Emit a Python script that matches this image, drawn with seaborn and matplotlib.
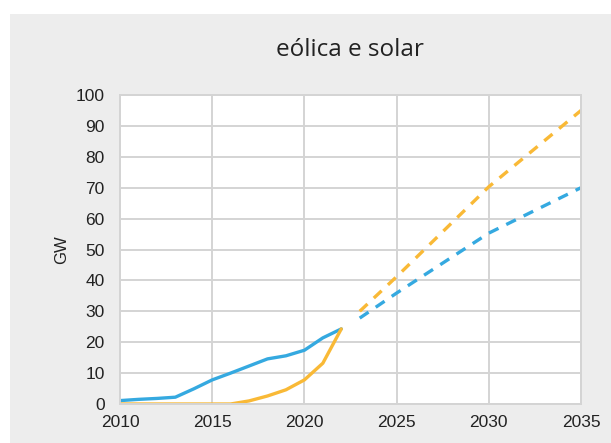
import pandas as pd
import matplotlib.pyplot as plt
import matplotlib.patches as mpatches
import seaborn as sns

# historic data (GW)
years_hist = [2010, 2011, 2012, 2013, 2014, 2015, 2016, 2017, 2018, 2019, 2020, 2021, 2022]
wind_hist = [1.1, 1.5, 1.8, 2.2, 4.9, 7.8, 10.0, 12.3, 14.6, 15.6, 17.4, 21.4, 24.3]
solar_hist = [0.0, 0.0, 0.0, 0.0, 0.0, 0.0, 0.0, 1.0, 2.6, 4.6, 7.8, 13.2, 24.3]

# projections (GW)
years_proj = [2023, 2025, 2030, 2035]
wind_proj = [27.8, 35.9, 55.3, 70.0]
solar_proj = [30.0, 41.2, 70.3, 95.0]

x_ticks = [2010, 2015, 2020, 2025, 2030, 2035]
y_ticks = list(range(0, 101, 10))

blue = "#35A9E0"
orange = "#F9B936"

hist = pd.DataFrame({"ano": years_hist, "eolica": wind_hist, "solar": solar_hist})
proj = pd.DataFrame({"ano": years_proj, "eolica": wind_proj, "solar": solar_proj})

sns.set_theme(style="white")
plt.rcParams["font.family"] = ["Liberation Sans", "DejaVu Sans"]

fig = plt.figure(figsize=(6.11, 4.43), dpi=100, facecolor="white")
# gray chart area behind everything
fig.patches.append(mpatches.Rectangle((10 / 611, 0), 1, 1 - 14 / 443,
                                      transform=fig.transFigure,
                                      facecolor="#EDEDED", edgecolor="none", zorder=-10))
ax = fig.add_axes([120 / 611, 1 - 404 / 443, 461 / 611, 309 / 443])
ax.set_facecolor("white")

sns.lineplot(data=hist, x="ano", y="eolica", color=blue, linewidth=2.4, ax=ax)
sns.lineplot(data=hist, x="ano", y="solar", color=orange, linewidth=2.4, ax=ax)
sns.lineplot(data=proj, x="ano", y="eolica", color=blue, linewidth=2.4,
             linestyle=(0, (3.2, 2.6)), ax=ax)
sns.lineplot(data=proj, x="ano", y="solar", color=orange, linewidth=2.4,
             linestyle=(0, (3.2, 2.6)), ax=ax)

ax.set_xlim(2010, 2035)
ax.set_ylim(0, 100)
ax.set_xticks(x_ticks)
ax.set_yticks(y_ticks)
ax.grid(True, color="#D4D4D4", linewidth=1.4)
ax.set_axisbelow(True)
for s in ax.spines.values():
    s.set_color("#D4D4D4")
    s.set_linewidth(1.4)
ax.tick_params(axis="both", length=0, labelsize=12.5, colors="#222222")
ax.tick_params(axis="y", pad=11)
ax.tick_params(axis="x", pad=8)
ax.set_xlabel("")
ax.set_ylabel("GW", fontsize=12, color="#222222", labelpad=5)

fig.text(0.573, 1 - 50 / 443, "eólica e solar", ha="center", va="center",
         fontsize=17.5, color="#222222", family=["Open Sans", "DejaVu Sans"])

fig.savefig("out.png", dpi=100, facecolor=fig.get_facecolor())
